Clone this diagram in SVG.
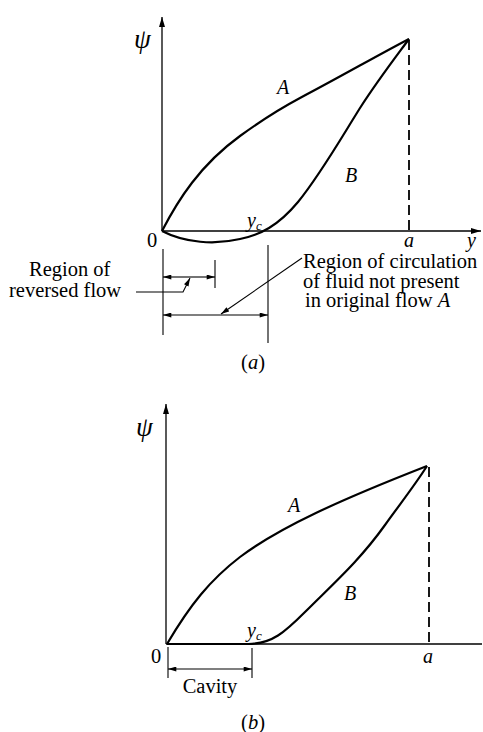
<svg xmlns="http://www.w3.org/2000/svg" width="483" height="732" viewBox="0 0 483 732">
<defs>
<marker id="ah" viewBox="0 0 10 6" refX="10" refY="3" markerWidth="11" markerHeight="6" markerUnits="userSpaceOnUse" orient="auto">
<path d="M0,0 L10,3 L0,6 Z" fill="#000"/>
</marker>
<marker id="ahs" viewBox="0 0 10 6" refX="10" refY="3" markerWidth="9" markerHeight="5" markerUnits="userSpaceOnUse" orient="auto">
<path d="M0,0 L10,3 L0,6 Z" fill="#000"/>
</marker>
</defs>
<style>
.ax{stroke:#000;stroke-width:1.3;fill:none}
.cv{stroke:#000;stroke-width:2.2;fill:none;stroke-linejoin:round}
.dash{stroke:#000;stroke-width:1.8;fill:none;stroke-dasharray:10,5}
.thin{stroke:#000;stroke-width:1.1;fill:none}
.t{font-family:"Liberation Serif","Times New Roman",serif;font-size:20.5px;fill:#000}
.i{font-family:"Liberation Serif","Times New Roman",serif;font-style:italic;font-size:20px;fill:#000}
.psi{font-family:"Liberation Serif","Times New Roman",serif;font-style:italic;font-size:27px;fill:#000}
</style>
<rect width="483" height="732" fill="#fff"/>

<g id="graph-a">
<g id="axes-a">
<line class="ax" x1="162" y1="231" x2="162" y2="17" marker-end="url(#ah)"/>
<line class="ax" x1="162" y1="231" x2="481" y2="231" marker-end="url(#ah)"/>
<line class="dash" x1="409" y1="40" x2="409" y2="231"/>
</g>
<g id="curve-A-a"><path class="cv" d="M162,231 C178,200 200,165 240,136 C262,120 285,106 300,98 C340,77 380,54 409,39"/></g>
<g id="curve-B-a"><path class="cv" d="M162,231 C185,243 215,245 240,239 C260,235 278,226 298,202 C320,175 340,140 360,108 C378,80 395,58 409,39"/></g>
<g id="labels-a">
<text class="psi" x="134" y="48">ψ</text>
<text class="i" x="277" y="94">A</text>
<text class="i" x="345" y="182">B</text>
<text class="i" x="247" y="227">y<tspan font-size="13" dy="3">c</tspan></text>
<text class="t" x="147" y="247">0</text>
<text class="i" x="404" y="247">a</text>
<text class="i" x="467" y="247">y</text>
</g>
<g id="dims-a">
<line class="thin" x1="163" y1="249" x2="163" y2="335"/>
<line class="thin" x1="268" y1="245" x2="268" y2="343"/>
<line class="thin" x1="215" y1="260" x2="215" y2="288"/>
<line class="thin" x1="189" y1="277" x2="163" y2="277" marker-end="url(#ahs)"/>
<line class="thin" x1="189" y1="277" x2="215" y2="277" marker-end="url(#ahs)"/>
<line class="thin" x1="215" y1="315" x2="163" y2="315" marker-end="url(#ahs)"/>
<line class="thin" x1="215" y1="315" x2="268" y2="315" marker-end="url(#ahs)"/>
</g>
<g id="leader-reversed"><path class="thin" d="M136,292 L183,292 L190,278" marker-end="url(#ahs)"/></g>
<g id="leader-circulation"><line class="thin" x1="302" y1="258" x2="221" y2="314" marker-end="url(#ahs)"/></g>
<g id="note-reversed">
<text class="t"><tspan x="29" y="276">Region of</tspan><tspan x="9" y="297">reversed flow</tspan></text>
</g>
<g id="note-circulation">
<text class="t"><tspan x="303" y="268">Region of circulation</tspan><tspan x="303" y="288">of fluid not present</tspan><tspan x="305" y="307">in original flow </tspan><tspan font-style="italic">A</tspan></text>
</g>
<text class="t" x="253" y="369" text-anchor="middle">(<tspan font-style="italic">a</tspan>)</text>
</g>

<g id="graph-b">
<g id="axes-b">
<line class="ax" x1="166" y1="644" x2="166" y2="404" marker-end="url(#ah)"/>
<line class="ax" x1="166" y1="644" x2="482" y2="644"/>
<line class="dash" x1="429" y1="467" x2="429" y2="644"/>
</g>
<g id="curve-A-b"><path class="cv" d="M167,644 C190,605 210,580 240,557 C280,527 340,500 427,466"/></g>
<g id="curve-B-b"><path class="cv" d="M167,644 L248,644 C272,644 285,632 305,612 C335,582 360,560 385,525 C400,504 415,485 427,466"/></g>
<g id="labels-b">
<text class="psi" x="136" y="436">ψ</text>
<text class="i" x="288" y="512">A</text>
<text class="i" x="344" y="600">B</text>
<text class="i" x="247" y="637">y<tspan font-size="13" dy="3">c</tspan></text>
<text class="t" x="151" y="663">0</text>
<text class="i" x="423" y="663">a</text>
</g>
<g id="dims-b">
<line class="thin" x1="168" y1="647" x2="168" y2="678"/>
<line class="thin" x1="252" y1="648" x2="252" y2="678"/>
<line class="thin" x1="210" y1="669" x2="168" y2="669" marker-end="url(#ahs)"/>
<line class="thin" x1="210" y1="669" x2="252" y2="669" marker-end="url(#ahs)"/>
<text class="t" x="210" y="693" text-anchor="middle">Cavity</text>
</g>
<text class="t" x="253" y="729" text-anchor="middle">(<tspan font-style="italic">b</tspan>)</text>
</g>
</svg>
